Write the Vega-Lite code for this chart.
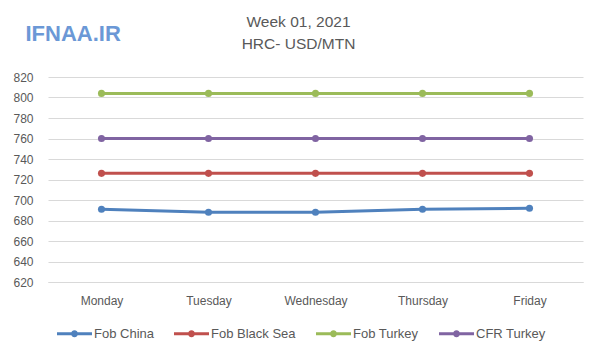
{
  "$schema": "https://vega.github.io/schema/vega-lite/v6.json",
  "width": 535,
  "height": 205,
  "autosize": "none",
  "padding": {"left": 48, "top": 77, "right": 17, "bottom": 78},
  "background": "white",
  "title": {
    "text": "Week 01, 2021",
    "subtitle": "HRC- USD/MTN",
    "anchor": "middle",
    "dx": -17,
    "offset": -30,
    "font": "Liberation Sans",
    "fontSize": 15.5,
    "fontWeight": "normal",
    "color": "#595959",
    "subtitleFont": "Liberation Sans",
    "subtitleFontSize": 15.5,
    "subtitleColor": "#595959",
    "subtitlePadding": 6
  },
  "data": {
    "values": [
      {"day": "Monday", "series": "Fob China", "price": 691},
      {"day": "Tuesday", "series": "Fob China", "price": 688},
      {"day": "Wednesday", "series": "Fob China", "price": 688},
      {"day": "Thursday", "series": "Fob China", "price": 691},
      {"day": "Friday", "series": "Fob China", "price": 692},
      {"day": "Monday", "series": "Fob Black Sea", "price": 726},
      {"day": "Tuesday", "series": "Fob Black Sea", "price": 726},
      {"day": "Wednesday", "series": "Fob Black Sea", "price": 726},
      {"day": "Thursday", "series": "Fob Black Sea", "price": 726},
      {"day": "Friday", "series": "Fob Black Sea", "price": 726},
      {"day": "Monday", "series": "Fob Turkey", "price": 804},
      {"day": "Tuesday", "series": "Fob Turkey", "price": 804},
      {"day": "Wednesday", "series": "Fob Turkey", "price": 804},
      {"day": "Thursday", "series": "Fob Turkey", "price": 804},
      {"day": "Friday", "series": "Fob Turkey", "price": 804},
      {"day": "Monday", "series": "CFR Turkey", "price": 760},
      {"day": "Tuesday", "series": "CFR Turkey", "price": 760},
      {"day": "Wednesday", "series": "CFR Turkey", "price": 760},
      {"day": "Thursday", "series": "CFR Turkey", "price": 760},
      {"day": "Friday", "series": "CFR Turkey", "price": 760}
    ]
  },
  "mark": {"type": "line", "strokeWidth": 3, "point": {"size": 50, "filled": true}},
  "encoding": {
    "x": {
      "field": "day",
      "type": "ordinal",
      "sort": ["Monday", "Tuesday", "Wednesday", "Thursday", "Friday"],
      "scale": {"type": "point", "padding": 0.5},
      "axis": {
        "title": null,
        "labelAngle": 0,
        "ticks": false,
        "domain": true,
        "domainColor": "#d9d9d9",
        "labelPadding": 13,
        "labelFont": "Liberation Sans",
        "labelFontSize": 12,
        "labelColor": "#595959",
        "grid": false
      }
    },
    "y": {
      "field": "price",
      "type": "quantitative",
      "scale": {"domain": [620, 820], "nice": false, "zero": false},
      "axis": {
        "title": "IFNAA.IR",
        "titleAngle": 0,
        "titleX": -23,
        "titleY": -44,
        "titleAlign": "left",
        "titleBaseline": "middle",
        "titleFont": "Liberation Sans",
        "titleFontSize": 22,
        "titleFontWeight": "bold",
        "titleColor": "#6B98D6",
        "values": [620, 640, 660, 680, 700, 720, 740, 760, 780, 800, 820],
        "ticks": false,
        "domain": false,
        "labelPadding": 15,
        "labelFont": "Liberation Sans",
        "labelFontSize": 12,
        "labelColor": "#595959",
        "gridColor": "#d9d9d9",
        "gridWidth": 1
      }
    },
    "color": {
      "field": "series",
      "type": "nominal",
      "scale": {
        "domain": ["Fob China", "Fob Black Sea", "Fob Turkey", "CFR Turkey"],
        "range": ["#4F81BD", "#C0504D", "#9BBB59", "#8064A2"]
      },
      "legend": {
        "title": null,
        "orient": "none",
        "legendX": 9,
        "legendY": 239,
        "direction": "horizontal",
        "labelFont": "Liberation Sans",
        "labelFontSize": 13,
        "labelColor": "#595959",
        "symbolType": "M-1,-0.09L1,-0.09L1,0.09L-1,0.09ZM-0.2,0A0.2,0.2 0 1,1 0.2,0A0.2,0.2 0 1,1 -0.2,0Z",
        "symbolSize": 1225,
        "symbolStrokeWidth": 0,
        "labelOffset": 2,
        "columnPadding": 20,
        "encode": {
          "symbols": {"update": {"fill": {"scale": "color", "field": "value"}, "strokeWidth": {"value": 0}}}
        }
      }
    }
  },
  "config": {"view": {"stroke": null}}
}
